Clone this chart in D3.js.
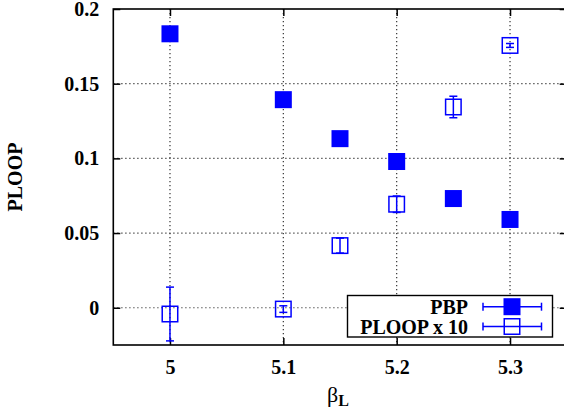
<!DOCTYPE html>
<html>
<head>
<meta charset="utf-8">
<script src="https://cdn.jsdelivr.net/npm/d3@7"></script>
<style>
  html, body { margin: 0; padding: 0; background: #fff; }
  svg { display: block; }
  text { font-family: "Liberation Serif", "Times New Roman", serif; font-weight: bold; fill: #000; }
</style>
</head>
<body>
<svg id="chart" width="564" height="417"></svg>
<script>
// Coupling values (x) and the two measured series
const beta = [5.0, 5.1, 5.15, 5.2, 5.25, 5.3];
const pbp = [0.1834, 0.1393, 0.1132, 0.0979, 0.0731, 0.0591];
const pbpErr = [0.001, 0.001, 0.001, 0.001, 0.001, 0.001];
const ploop10 = [-0.0042, -0.0009, 0.0416, 0.0693, 0.1344, 0.1756];
const ploop10Err = [0.018, 0.0022, 0.005, 0.0055, 0.0072, 0.0013];

const xTicks = [5.0, 5.1, 5.2, 5.3];
const xTickLabels = ["5", "5.1", "5.2", "5.3"];
const yTicks = [0, 0.05, 0.1, 0.15, 0.2];
const yTickLabels = ["0", "0.05", "0.1", "0.15", "0.2"];
const seriesNames = ["PBP", "PLOOP x 10"];

const svg = d3.select("#chart");
const plotL = 113.3, plotR = 566.7, plotT = 9, plotB = 345;
const x = d3.scaleLinear().domain([4.95, 5.35]).range([plotL, plotR]);
const y = d3.scaleLinear().domain([-0.02495, 0.2]).range([plotB, plotT]);

const blue = "#0000ff";
const sq = 17;

// grid
const grid = svg.append("g").attr("stroke", "#333").attr("stroke-width", 1.2)
  .attr("stroke-dasharray", "1.2,2.8");
xTicks.forEach(v => grid.append("line")
  .attr("x1", x(v)).attr("x2", x(v)).attr("y1", plotT).attr("y2", plotB));
yTicks.filter(v => v < 0.2).forEach(v => grid.append("line")
  .attr("x1", plotL).attr("x2", plotR).attr("y1", y(v)).attr("y2", y(v)));

// axes with inward ticks on all four sides
const tl = 7;
function styleAxis(g) {
  g.select(".domain").remove();
  g.selectAll("line").attr("stroke-width", 1.5);
  g.selectAll("text").attr("font-size", 20).attr("font-family", "Liberation Serif").attr("font-weight", "bold");
}
svg.append("g").attr("transform", `translate(0,${plotB})`)
  .call(d3.axisBottom(x).tickValues(xTicks).tickSize(-tl).tickFormat((d, i) => xTickLabels[i]).tickPadding(15))
  .call(styleAxis);
svg.append("g").attr("transform", `translate(0,${plotT})`)
  .call(d3.axisTop(x).tickValues(xTicks).tickSize(-tl).tickFormat(""))
  .call(styleAxis);
svg.append("g").attr("transform", `translate(${plotL},0)`)
  .call(d3.axisLeft(y).tickValues(yTicks).tickSize(-tl).tickFormat((d, i) => yTickLabels[i]).tickPadding(14))
  .call(styleAxis);
svg.append("g").attr("transform", `translate(${plotR},0)`)
  .call(d3.axisRight(y).tickValues(yTicks).tickSize(-tl).tickFormat(""))
  .call(styleAxis);

// frame
svg.append("rect").attr("x", plotL).attr("y", plotT).attr("width", plotR - plotL).attr("height", plotB - plotT)
  .attr("fill", "none").attr("stroke", "#000").attr("stroke-width", 1.6);

// error bars
function errorBars(vals, errs) {
  const g = svg.append("g").attr("stroke", blue).attr("stroke-width", 1.5);
  beta.forEach((b, i) => {
    const cx = x(b), y1 = y(vals[i] + errs[i]), y2 = y(vals[i] - errs[i]);
    g.append("line").attr("x1", cx).attr("x2", cx).attr("y1", y1).attr("y2", y2);
    g.append("line").attr("x1", cx - 4).attr("x2", cx + 4).attr("y1", y1).attr("y2", y1);
    g.append("line").attr("x1", cx - 4).attr("x2", cx + 4).attr("y1", y2).attr("y2", y2);
  });
}
errorBars(pbp, pbpErr);
errorBars(ploop10, ploop10Err);

// filled squares: PBP
svg.append("g").selectAll("rect").data(beta).join("rect")
  .attr("x", (d) => x(d) - sq / 2).attr("y", (d, i) => y(pbp[i]) - sq / 2)
  .attr("width", sq).attr("height", sq).attr("fill", blue);

// open squares: PLOOP x 10
svg.append("g").selectAll("rect").data(beta).join("rect")
  .attr("x", (d) => x(d) - sq / 2 + 0.75).attr("y", (d, i) => y(ploop10[i]) - sq / 2 + 0.75)
  .attr("width", sq - 1.5).attr("height", sq - 1.5).attr("fill", "none")
  .attr("stroke", blue).attr("stroke-width", 1.5);

// legend
const lg = svg.append("g");
lg.append("rect").attr("x", 347.5).attr("y", 295.5).attr("width", 205).attr("height", 41.5)
  .attr("fill", "#fff").attr("stroke", "#000").attr("stroke-width", 1.4);
const rows = [306.7, 326.5];
seriesNames.forEach((name, i) => {
  const cy = rows[i];
  lg.append("text").attr("x", 468).attr("y", cy).attr("dy", "0.35em")
    .attr("text-anchor", "end").attr("font-size", 20).text(name);
  const e = lg.append("g").attr("stroke", blue).attr("stroke-width", 1.5);
  e.append("line").attr("x1", 483).attr("x2", 541.5).attr("y1", cy).attr("y2", cy);
  e.append("line").attr("x1", 483).attr("x2", 483).attr("y1", cy - 4).attr("y2", cy + 4);
  e.append("line").attr("x1", 541.5).attr("x2", 541.5).attr("y1", cy - 4).attr("y2", cy + 4);
  if (i === 0) {
    lg.append("rect").attr("x", 512 - sq / 2).attr("y", cy - sq / 2).attr("width", sq).attr("height", sq).attr("fill", blue);
  } else {
    lg.append("rect").attr("x", 512 - sq / 2 + 0.75).attr("y", cy - sq / 2 + 0.75)
      .attr("width", sq - 1.5).attr("height", sq - 1.5).attr("fill", "none")
      .attr("stroke", blue).attr("stroke-width", 1.5);
  }
});

// axis titles
svg.append("text").attr("transform", "translate(22,177) rotate(-90)")
  .attr("text-anchor", "middle").attr("font-size", 20).text("PLOOP");
const xt = svg.append("text").attr("x", 338).attr("y", 402).attr("text-anchor", "middle");
xt.append("tspan").attr("font-size", 22).attr("font-weight", "normal").text("β");
xt.append("tspan").attr("font-size", 16).attr("dy", 4).text("L");
</script>
</body>
</html>
